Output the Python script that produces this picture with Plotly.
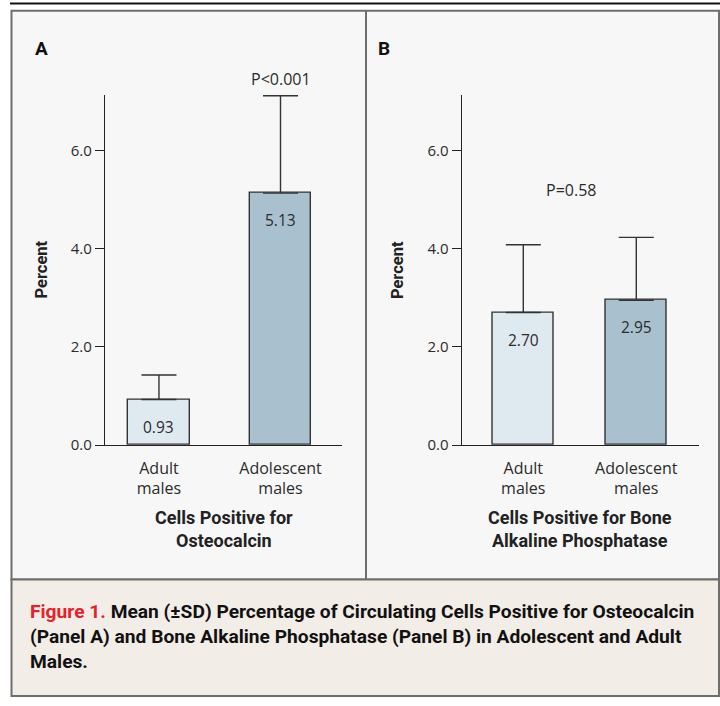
import plotly.graph_objects as go

# ---- data ----
groups = ["Adult<br>males", "Adolescent<br>males"]
osteocalcin_mean = [0.93, 5.13]
osteocalcin_sd = [0.50, 1.98]
balp_mean = [2.70, 2.95]
balp_sd = [1.38, 1.28]
value_labels_a = ["0.93", "5.13"]
value_labels_b = ["2.70", "2.95"]
y_ticks = [0, 2, 4, 6]
y_tick_text = ["0.0", "2.0", "4.0", "6.0"]
bar_colors = ["#dfe9f0", "#a9c1ce"]

W, H = 720, 706
def px(x):
    return x / W
def py(y):
    return 1 - y / H

REG = "Open Sans"
BOLD = "Roboto"
TXT = "#2b2b2b"

fig = go.Figure()

for i, (means, sds) in enumerate([(osteocalcin_mean, osteocalcin_sd), (balp_mean, balp_sd)]):
    xa = "x" if i == 0 else "x2"
    ya = "y" if i == 0 else "y2"
    fig.add_trace(go.Bar(
        x=groups, y=means, xaxis=xa, yaxis=ya,
        width=0.51 if i == 0 else 0.543,
        marker=dict(color=bar_colors, line=dict(color="#333333", width=1.4)),
        error_y=dict(type="data", array=sds, arrayminus=[0, 0], symmetric=False,
                     color="#333333", thickness=1.4, width=17.5),
        showlegend=False, hoverinfo="skip",
    ))

ax_common = dict(
    showline=True, linecolor="#222222", linewidth=1.4, showgrid=False, zeroline=False,
    fixedrange=True,
)
fig.update_layout(
    width=W, height=H, autosize=False,
    margin=dict(l=0, r=0, t=0, b=0),
    paper_bgcolor="white", plot_bgcolor="rgba(0,0,0,0)",
    bargap=0,
    xaxis=dict(domain=[px(105), px(342)], anchor="y", type="category",
               range=[-0.444, 1.506], ticks="outside", ticklen=8, tickcolor="rgba(0,0,0,0)",
               tickfont=dict(family=REG, size=16, color=TXT), **ax_common),
    yaxis=dict(domain=[py(451), py(96)], anchor="x", range=[0, 7.13],
               tickvals=y_ticks, ticktext=y_tick_text, ticks="outside", ticklen=9,
               tickcolor="#222222", tickwidth=1.4,
               tickfont=dict(family=REG, size=15, color=TXT), **ax_common),
    xaxis2=dict(domain=[px(461.7), px(699)], anchor="y2", type="category",
                range=[-0.545, 1.555], ticks="outside", ticklen=8, tickcolor="rgba(0,0,0,0)",
                tickfont=dict(family=REG, size=16, color=TXT), **ax_common),
    yaxis2=dict(domain=[py(451), py(96)], anchor="x2", range=[0, 7.13],
                tickvals=y_ticks, ticktext=y_tick_text, ticks="outside", ticklen=9,
                tickcolor="#222222", tickwidth=1.4,
                tickfont=dict(family=REG, size=15, color=TXT), **ax_common),
)

shapes = [
    dict(type="line", xref="paper", yref="paper", x0=px(10), x1=1, y0=py(3.5), y1=py(3.5),
         line=dict(color="#111111", width=2), layer="below"),
    dict(type="rect", xref="paper", yref="paper", x0=px(11.5), x1=px(719), y0=py(587), y1=py(11),
         fillcolor="#f7f7f7", line=dict(color="#6e6e6e", width=2), layer="below"),
    dict(type="rect", xref="paper", yref="paper", x0=px(11.5), x1=px(719), y0=py(705), y1=py(587),
         fillcolor="#f2ede7", line=dict(color="#6e6e6e", width=2), layer="below"),
    dict(type="line", xref="paper", yref="paper", x0=px(366), x1=px(366), y0=py(587), y1=py(11),
         line=dict(color="#6e6e6e", width=2), layer="below"),
]
fig.update_layout(shapes=shapes)

def A(**kw):
    d = dict(showarrow=False, xanchor="center", yanchor="middle")
    d.update(kw)
    return d

ann = []
# value labels inside bars
for xa, ya, means, labels in [("x", "y", osteocalcin_mean, value_labels_a), ("x2", "y2", balp_mean, value_labels_b)]:
    for g, m, lab in zip(groups, means, labels):
        ann.append(A(x=g, y=m, xref=xa, yref=ya, text=lab, yshift=-27,
                     font=dict(family=REG, size=15.5, color=TXT)))
# panel letters
ann.append(A(x=px(41.5), y=py(49), xref="paper", yref="paper", text="<b>A</b>",
             font=dict(family=BOLD, size=19, color="#111111")))
ann.append(A(x=px(384), y=py(49), xref="paper", yref="paper", text="<b>B</b>",
             font=dict(family=BOLD, size=19, color="#111111")))
# P values
ann.append(A(x=px(280.5), y=py(80), xref="paper", yref="paper", text="P<0.001",
             font=dict(family=REG, size=16, color=TXT)))
ann.append(A(x=px(570.8), y=py(192.3), xref="paper", yref="paper", text="P=0.58",
             font=dict(family=REG, size=16, color=TXT)))
# y titles
for xx in [41.7, 398.3]:
    ann.append(A(x=px(xx), y=py(273.3), xref="paper", yref="paper", text="<b>Percent</b>",
                 textangle=-90, font=dict(family=BOLD, size=16.5, color="#222222")))
# x titles
ann.append(A(x=px(223.7), y=py(535.5), xref="paper", yref="paper",
             text="<b>Cells Positive for<br>Osteocalcin</b>",
             font=dict(family=BOLD, size=18, color="#222222")))
ann.append(A(x=px(579.7), y=py(535.5), xref="paper", yref="paper",
             text="<b>Cells Positive for Bone<br>Alkaline Phosphatase</b>",
             font=dict(family=BOLD, size=18, color="#222222")))
# caption
ann.append(A(x=px(28), y=py(645), xref="paper", yref="paper", xanchor="left",
             align="left",
             text=("<b><span style='color:#e8202a'>Figure 1.</span> "
                   "Mean (±SD) Percentage of Circulating Cells Positive for Osteocalcin<br>"
                   "(Panel A) and Bone Alkaline Phosphatase (Panel B) in Adolescent and Adult<br>"
                   "Males.</b>"),
             font=dict(family=BOLD, size=19.2, color="#111111")))
fig.update_layout(annotations=ann)

post = (
    "var s=document.createElement('style');"
    "s.textContent='html,body{margin:0!important;padding:0!important;overflow:hidden!important;}';"
    "document.head.appendChild(s);"
)
fig.write_html("out.html", config={"displayModeBar": False, "responsive": False},
               post_script=post)
